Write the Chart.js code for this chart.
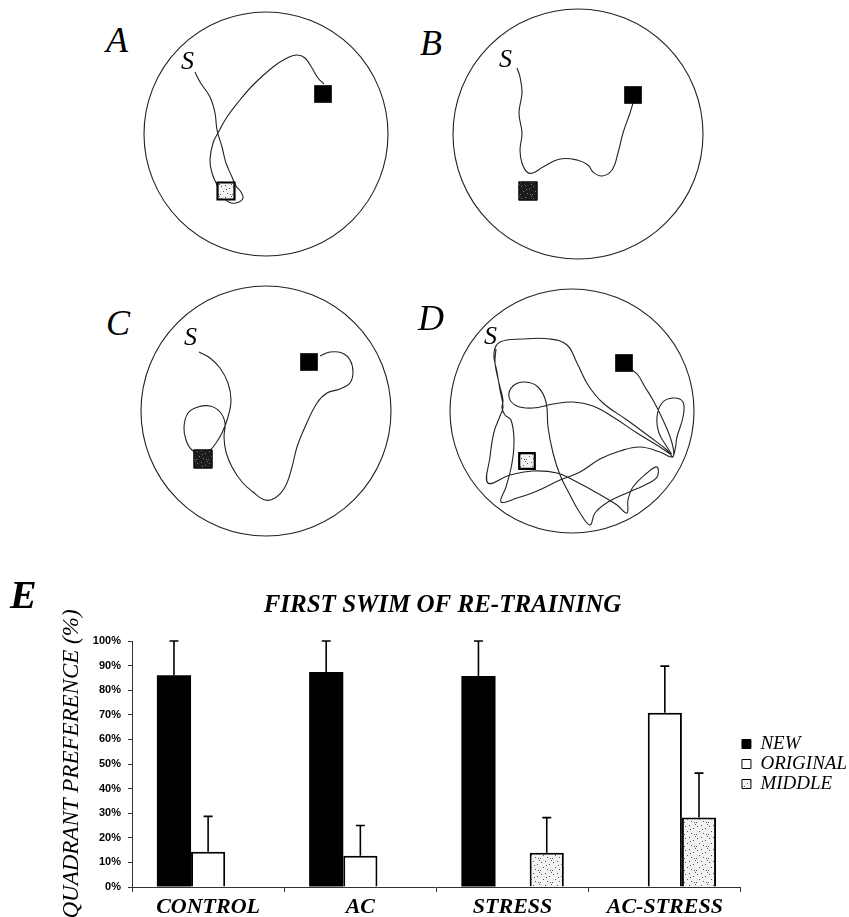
<!DOCTYPE html>
<html>
<head>
<meta charset="utf-8">
<title>First swim of re-training</title>
<script src="https://cdn.jsdelivr.net/npm/chart.js@4.4.1/dist/chart.umd.min.js"></script>
<style>
  body { margin: 0; background: #fff; }
  #figure {
    position: relative; width: 849px; height: 917px; overflow: hidden;
    background: #fff; color: #000;
    font-family: "Liberation Serif", "Times New Roman", serif;
  }
  #figure canvas { position: absolute; }
  .letter { position: absolute; font-style: italic; font-size: 36px; line-height: 1; }
  .start { position: absolute; font-style: italic; font-size: 26px; line-height: 1; }
  .big { position: absolute; font-style: italic; font-weight: bold; font-size: 40px; line-height: 1; }
</style>
</head>
<body>
<div id="figure">
  <canvas id="poolA" width="260" height="260" style="left:136px;top:4px"></canvas>
  <canvas id="poolB" width="260" height="260" style="left:448px;top:4px"></canvas>
  <canvas id="poolC" width="260" height="260" style="left:136px;top:281px"></canvas>
  <canvas id="poolD" width="260" height="260" style="left:442px;top:281px"></canvas>
  <canvas id="bars" width="849" height="357" style="left:0;top:560px"></canvas>

  <div class="letter" style="left:106px;top:22px">A</div>
  <div class="letter" style="left:420px;top:25px">B</div>
  <div class="letter" style="left:106px;top:305px">C</div>
  <div class="letter" style="left:418px;top:300px">D</div>
  <div class="start" style="left:181px;top:48px">S</div>
  <div class="start" style="left:499px;top:46px">S</div>
  <div class="start" style="left:184px;top:324px">S</div>
  <div class="start" style="left:484px;top:323px">S</div>
  <div class="big" style="left:10px;top:575px">E</div>
</div>

<script>
// Bar chart data (percent of time in each quadrant)
const groups = ["CONTROL", "AC", "STRESS", "AC-STRESS"];
const newPct = [86.1, 87.4, 85.8, 0];
const originalPct = [14.3, 12.7, 0, 70.8];
const middlePct = [0, 0, 13.9, 28.3];
const newErr = [13.9, 12.6, 14.2, 0];
const originalErr = [14.4, 12.3, 0, 19];
const middleErr = [0, 0, 14.3, 18];
const yTickStep = 10;

// Swim paths, tracker units, origin at the pool centre (y points down)
const pathA = [[-71,-62],[-66,-52],[-56,-37],[-51,-21],[-49,-4],[-44,13],[-40,29],[-34,43],[-30,52],[-25,58],[-23,64],[-27,68],[-35,69],[-42,64],[-48,53],[-54,39],[-56,26],[-53,9],[-48,-1],[-39,-17],[-26,-34],[-13,-49],[7,-67],[21,-76],[31,-79],[39,-76],[46,-66],[52,-56],[58,-50]];
const pathB = [[-61,-66],[-58,-57],[-56,-41],[-59,-21],[-56,-1],[-58,16],[-56,29],[-51,38],[-45,39],[-35,33],[-18,25],[-1,26],[10,31],[15,38],[24,42],[34,36],[40,19],[45,-1],[52,-21],[55,-31]];
const pathC = [[-67,-59],[-56,-53],[-46,-43],[-38,-28],[-35,-11],[-38,6],[-44,22],[-50,32],[-56,39],[-66,41],[-74,39],[-80,29],[-82,16],[-78,2],[-68,-4],[-56,-5],[-46,1],[-41,12],[-42,26],[-40,41],[-34,56],[-24,71],[-13,81],[-1,89],[9,87],[19,76],[26,56],[31,36],[39,16],[51,-8],[61,-18],[74,-22],[84,-28],[87,-39],[84,-51],[76,-58],[64,-59],[54,-55]];
const pathD = [[-76,-62],[-77,-48],[-73,-28],[-69,-11],[-70,-3],[-67,4],[-61,9],[-58,29],[-60,52],[-66,76],[-71,91],[-55,87],[-35,80],[-12,69],[8,61],[28,48],[48,40],[68,36],[88,41],[100,46],[103,39],[105,26],[111,6],[111,-9],[101,-13],[90,-8],[85,6],[87,22],[95,36],[99,43],[88,36],[65,22],[41,6],[21,-5],[1,-9],[-19,-7],[-39,-3],[-55,-5],[-63,-14],[-59,-25],[-47,-29],[-34,-24],[-26,-9],[-24,16],[-19,42],[-12,64],[-2,84],[8,102],[18,114],[23,102],[36,91],[55,82],[73,74],[85,66],[85,56],[75,62],[61,76],[56,89],[55,102],[45,94],[25,82],[5,71],[-15,62],[-39,60],[-62,64],[-84,72],[-82,46],[-78,21],[-72,5],[-69,-4],[-72,-21],[-75,-39],[-78,-58],[-72,-69],[-49,-72],[-22,-72],[-5,-66],[5,-48],[16,-26],[31,-8],[55,9],[78,26],[95,39],[101,46],[100,32],[91,9],[81,-11],[73,-24],[66,-36],[60,-41]];

// Platform positions (tracker units) and pool radius for each panel
const newPlatforms = [[57,-40],[55,-39],[43,-49],[52,-48]];
const oldPlatforms = [[-40,57],[-50,57],[-63,48],[-45,50]];
const poolRadius = [122, 125, 125, 122];

const serif = '"Liberation Serif", "Times New Roman", serif';

// Speckled fill used for the "middle" quadrant and old platforms
function makeSpeckle(base, dot) {
  const c = document.createElement("canvas");
  c.width = 12;
  c.height = 12;
  const g = c.getContext("2d");
  g.fillStyle = base;
  g.fillRect(0, 0, 12, 12);
  g.fillStyle = dot;
  [[1,2],[5,1],[9,4],[3,7],[7,9],[10,10],[0,10],[6,5],[11,0]].forEach(([x, y]) => g.fillRect(x, y, 1, 1));
  return g.createPattern(c, "repeat");
}

const lightSpeckle = makeSpeckle("#f3f3f3", "#555");
const darkSpeckle = makeSpeckle("#1c1c1c", "#777");

// Draw the pool outline around the tracker origin
const poolOutline = {
  id: "poolOutline",
  beforeDatasetsDraw(chart, args, opts) {
    const { x, y } = chart.scales;
    const cx = x.getPixelForValue(0);
    const cy = y.getPixelForValue(0);
    const r = x.getPixelForValue(opts.radius) - cx;
    const ctx = chart.ctx;
    ctx.save();
    ctx.beginPath();
    ctx.arc(cx, cy, r, 0, Math.PI * 2);
    ctx.lineWidth = 1.1;
    ctx.strokeStyle = "#222";
    ctx.stroke();
    ctx.restore();
  },
};

function toPoints(list) {
  return list.map(([x, y]) => ({ x, y }));
}

function makePanel(id, idx, path, oldFill, oldBorder, oldSize) {
  new Chart(document.getElementById(id), {
    type: "scatter",
    data: {
      datasets: [
        {
          data: toPoints([newPlatforms[idx]]),
          pointStyle: "rect",
          pointRadius: 12.5,
          backgroundColor: "#000",
          borderColor: "#000",
          borderWidth: 0,
        },
        {
          data: toPoints([oldPlatforms[idx]]),
          pointStyle: "rect",
          pointRadius: oldSize,
          backgroundColor: oldFill,
          borderColor: "#000",
          borderWidth: oldBorder,
        },
        {
          data: toPoints(path),
          showLine: true,
          tension: 0.4,
          pointRadius: 0,
          borderColor: "#222",
          borderWidth: 1.1,
        },
      ],
    },
    options: {
      responsive: false,
      animation: false,
      events: [],
      layout: { padding: 0, autoPadding: false },
      plugins: {
        legend: { display: false },
        tooltip: { enabled: false },
        poolOutline: { radius: poolRadius[idx] },
      },
      scales: {
        x: { type: "linear", min: -130, max: 130, display: false },
        y: { type: "linear", min: -130, max: 130, reverse: true, display: false },
      },
    },
    plugins: [poolOutline],
  });
}

makePanel("poolA", 0, pathA, lightSpeckle, 2.2, 12);
makePanel("poolB", 1, pathB, darkSpeckle, 1, 13);
makePanel("poolC", 2, pathC, darkSpeckle, 1, 13);
makePanel("poolD", 3, pathD, lightSpeckle, 2.2, 11);

// Upward error bars with a cap, placed through the y scale
const errorBars = {
  id: "errorBars",
  afterDatasetsDraw(chart) {
    const ctx = chart.ctx;
    const yScale = chart.scales.y;
    ctx.save();
    ctx.strokeStyle = "#000";
    ctx.lineWidth = 1.6;
    chart.data.datasets.forEach((ds, i) => {
      chart.getDatasetMeta(i).data.forEach((bar, j) => {
        const e = ds.errors[j];
        if (!e) return;
        const top = yScale.getPixelForValue(ds.data[j] + e);
        ctx.beginPath();
        ctx.moveTo(bar.x, bar.y);
        ctx.lineTo(bar.x, top);
        ctx.moveTo(bar.x - 4.5, top);
        ctx.lineTo(bar.x + 4.5, top);
        ctx.stroke();
      });
    });
    ctx.restore();
  },
};

const barCommon = { categoryPercentage: 0.673, barPercentage: 1.0, borderColor: "#000" };

new Chart(document.getElementById("bars"), {
  type: "bar",
  data: {
    labels: groups,
    datasets: [
      { ...barCommon, label: "NEW", data: newPct, errors: newErr, backgroundColor: "#000", borderWidth: 0 },
      { ...barCommon, label: "ORIGINAL", data: originalPct, errors: originalErr, backgroundColor: "#fff", borderWidth: 2 },
      { ...barCommon, label: "MIDDLE", data: middlePct, errors: middleErr, backgroundColor: lightSpeckle, borderWidth: 2 },
    ],
  },
  options: {
    responsive: false,
    animation: false,
    events: [],
    layout: { padding: { left: 28, right: -8, top: 0, bottom: 0 } },
    plugins: {
      title: {
        display: true,
        text: "FIRST SWIM OF RE-TRAINING",
        color: "#000",
        font: { family: serif, size: 25, style: "italic", weight: "bold" },
        padding: { top: 31, bottom: 20 },
      },
      legend: {
        position: "right",
        fullSize: false,
        labels: {
          boxWidth: 9,
          boxHeight: 9,
          padding: 1,
          color: "#000",
          font: { family: serif, size: 19, style: "italic" },
          generateLabels(chart) {
            return chart.data.datasets.map((ds, i) => ({
              text: ds.label,
              fillStyle: ds.backgroundColor,
              strokeStyle: "#000",
              lineWidth: 1,
              fontColor: "#000",
              datasetIndex: i,
            }));
          },
        },
      },
      tooltip: { enabled: false },
    },
    scales: {
      x: {
        grid: { drawOnChartArea: false, tickLength: 5, color: "#333" },
        border: { color: "#333", width: 1 },
        ticks: {
          color: "#000",
          padding: 2,
          maxRotation: 0,
          font: { family: serif, size: 22, style: "italic", weight: "bold" },
        },
        afterFit(scale) {
          scale.height = 30;
        },
      },
      y: {
        min: 0,
        max: 100,
        grid: { drawOnChartArea: false, tickLength: 4, color: "#333" },
        border: { color: "#333", width: 1 },
        ticks: {
          stepSize: yTickStep,
          color: "#000",
          padding: 7,
          font: { family: '"Liberation Sans", Arial, sans-serif', size: 11, weight: "bold" },
          callback: (v) => v + "%",
        },
        title: {
          display: true,
          text: "QUADRANT PREFERENCE (%)",
          color: "#000",
          font: { family: serif, size: 23, style: "italic" },
          padding: { top: 30, bottom: 0 },
        },
        afterFit(scale) {
          scale.width = 104;
        },
      },
    },
  },
  plugins: [errorBars],
});
</script>
</body>
</html>
